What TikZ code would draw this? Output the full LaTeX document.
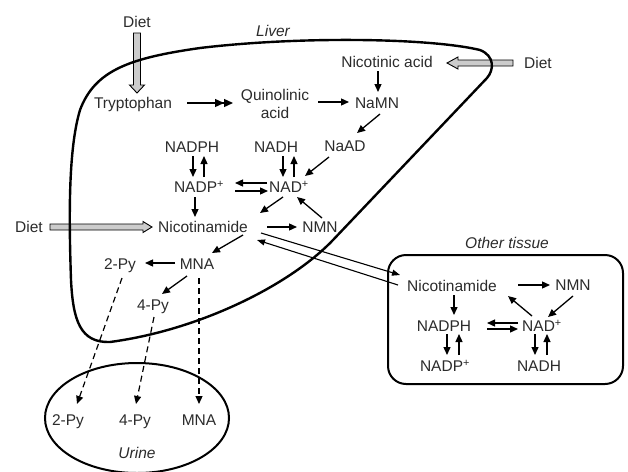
\documentclass[tikz,border=0pt]{standalone}
\usepackage{fontspec}
\setmainfont{Liberation Sans}
\usetikzlibrary{arrows.meta,calc}
\definecolor{txtc}{rgb}{0.17,0.17,0.17}
\definecolor{dietgray}{rgb}{0.80,0.80,0.80}
\newcommand{\fsz}{\fontsize{15.5}{18.5}\selectfont}
\begin{document}
\begin{tikzpicture}[x=1pt,y=-1pt,
  t/.style={font=\fsz, text=txtc, inner sep=0pt, text height=11pt, text depth=0pt},
  it/.style={t, font=\fsz\itshape},
  arr/.style={line width=1.3pt, -{Triangle[length=8pt,width=7pt]}},
  darr/.style={line width=1.3pt, -{Triangle[length=9pt,width=8pt]Triangle[length=9pt,width=8pt]}},
  dasharr/.style={line width=1.2pt, dash pattern=on 6pt off 4pt, -{Triangle[length=8pt,width=7pt]}},
  tarr/.style={line width=1.1pt, -{Triangle[length=8pt,width=6pt]}},
  membrane/.style={line width=2.4pt, line join=round},
  tissue/.style={line width=2pt},
  dietarr/.style={draw=black, line width=0.9pt, fill=dietgray, line join=miter},
]
\useasboundingbox (0,0) rectangle (628,471);

% ---------- nodes ----------
\node[t] (diet1) at (137,22) {Diet};
\node[it] (liverlbl) at (273,31) {Liver};
\node[t] (tryp) at (133,103) {Tryptophan};
\node[font=\fsz, text=txtc, inner sep=0pt, align=center] (quin) at (275,104) {Quinolinic\\acid};
\node[t] (nica) at (387,62) {Nicotinic acid};
\node[t] (diet2) at (538,63) {Diet};
\node[t] (namn) at (377,103) {NaMN};
\node[t] (naad) at (345,146) {NaAD};
\node[t] (nadph1) at (192,147) {NADPH};
\node[t] (nadh1) at (276,147) {NADH};
\node[t] (nadp1) at (199,187) {NADP\textsuperscript{+}};
\node[t] (nad1) at (289,187) {NAD\textsuperscript{+}};
\node[t] (diet3) at (29,227) {Diet};
\node[t] (nic1) at (203,227) {Nicotinamide};
\node[t] (nmn1) at (320,227) {NMN};
\node[t] (py2a) at (120,264) {2-Py};
\node[t] (mna1) at (197,264) {MNA};
\node[t] (py4a) at (153,305) {4-Py};
\node[t] (py2u) at (68,420) {2-Py};
\node[t] (py4u) at (135,420) {4-Py};
\node[t] (mnau) at (199,420) {MNA};
\node[it] (urinelbl) at (137,453) {Urine};
\node[it] (otherlbl) at (507,243) {Other tissue};
\node[t] (nic2) at (452,286) {Nicotinamide};
\node[t] (nmn2) at (573,285) {NMN};
\node[t] (nadph2) at (444,326) {NADPH};
\node[t] (nad2) at (542,326) {NAD\textsuperscript{+}};
\node[t] (nadp2) at (445,366) {NADP\textsuperscript{+}};
\node[t] (nadh2) at (539,366) {NADH};

% ---------- diet (gray) arrows ----------
\coordinate (d1s) at ($(diet1)+(0,11)$);
\coordinate (d1t) at ($(tryp)+(4,-10)$);
\draw[dietarr] ($(d1s)+(-3.5,0)$) -- ($(d1t)+(-3.5,-8)$) -- ($(d1t)+(-7.5,-8)$) -- (d1t)
  -- ($(d1t)+(7.5,-8)$) -- ($(d1t)+(3.5,-8)$) -- ($(d1s)+(3.5,0)$) -- cycle;
\coordinate (d2s) at ($(diet2)+(-25,0)$);
\coordinate (d2t) at ($(nica)+(60,1)$);
\draw[dietarr] ($(d2s)+(0,-3)$) -- ($(d2t)+(11,-3)$) -- ($(d2t)+(11,-6)$) -- (d2t)
  -- ($(d2t)+(11,6)$) -- ($(d2t)+(11,3)$) -- ($(d2s)+(0,3)$) -- cycle;
\coordinate (d3s) at ($(diet3)+(21,0)$);
\coordinate (d3t) at ($(nic1)+(-51,0)$);
\draw[dietarr] ($(d3s)+(0,-3)$) -- ($(d3t)+(-9,-3)$) -- ($(d3t)+(-9,-5.5)$) -- (d3t)
  -- ($(d3t)+(-9,5.5)$) -- ($(d3t)+(-9,3)$) -- ($(d3s)+(0,3)$) -- cycle;

% ---------- compartments ----------
\draw[membrane] (487,78) -- (333,240) .. controls (290,285) and (200,330) .. (110,342)
  .. controls (80,343) and (73,320) .. (71,280)
  .. controls (69,220) and (68,150) .. (80,110)
  .. controls (95,70) and (130,58) .. (200,48)
  .. controls (300,36) and (430,38) .. (480,50)
  .. controls (495,56) and (494,70) .. (487,78) -- cycle;
\draw[tissue, rounded corners=18pt] (388,255) rectangle (623,384);
\draw[tissue] (137,418) ellipse [x radius=92pt, y radius=55pt];

% ---------- liver arrows ----------
\draw[darr] ($(tryp)+(54,0)$) -- ($(quin)+(-42,-1)$);
\draw[arr] ($(quin)+(43,-2)$) -- ($(namn)+(-28,-1)$);
\draw[arr] ($(nica)+(-9,9)$) -- ($(namn)+(1,-11)$);
\draw[arr] ($(namn)+(3,11)$) -- ($(naad)+(12,-13)$);
\draw[arr] ($(naad)+(-16,11)$) -- ($(nad1)+(16,-11)$);
\draw[arr] ($(nadph1)+(1,9)$) -- ($(nadp1)+(-6,-10)$);
\draw[arr] ($(nadp1)+(5,-10)$) -- ($(nadph1)+(12,9)$);
\draw[arr] ($(nadh1)+(7,9)$) -- ($(nad1)+(-6,-10)$);
\draw[arr] ($(nad1)+(5,-10)$) -- ($(nadh1)+(18,9)$);
\draw[arr] ($(nad1)+(-22,-4)$) -- ($(nadp1)+(36,-4)$);
\draw[arr] ($(nadp1)+(36,4)$) -- ($(nad1)+(-21,4)$);
\draw[arr] ($(nadp1)+(-4,10)$) -- ($(nic1)+(-8,-10)$);
\draw[arr] ($(nad1)+(-6,10)$) -- ($(nic1)+(57,-14)$);
\draw[arr] ($(nmn1)+(2,-9)$) -- ($(nad1)+(8,10)$);
\draw[arr] ($(nic1)+(64,0)$) -- ($(nmn1)+(-23,0)$);
\draw[arr] ($(nic1)+(40,8)$) -- ($(mna1)+(15,-11)$);
\draw[arr] ($(mna1)+(-22,-1)$) -- ($(py2a)+(25,-1)$);
\draw[arr] ($(mna1)+(-10,12)$) -- ($(py4a)+(9,-11)$);

% ---------- excretion ----------
\draw[dasharr] ($(py2a)+(2,14)$) -- ($(py2u)+(9,-16)$);
\draw[dasharr] ($(py4a)+(1,12)$) -- ($(py4u)+(1,-16)$);
\draw[dasharr] ($(mna1)+(2,14)$) -- ($(mnau)+(0,-16)$);

% ---------- transport ----------
\draw[tarr] ($(nic1)+(58,6)$) -- ($(nic2)+(-52,-11)$);
\draw[tarr] ($(nic2)+(-54,-1)$) -- ($(nic1)+(54,13)$);

% ---------- other tissue arrows ----------
\draw[arr] ($(nic2)+(66,-1)$) -- ($(nmn2)+(-23,0)$);
\draw[arr] ($(nmn2)+(0,11)$) -- ($(nad2)+(6,-9)$);
\draw[arr] ($(nad2)+(-10,-10)$) -- ($(nic2)+(56,10)$);
\draw[arr] ($(nic2)+(2,9)$) -- ($(nadph2)+(10,-11)$);
\draw[arr] ($(nad2)+(-24,-3)$) -- ($(nadph2)+(43,-3)$);
\draw[arr] ($(nadph2)+(43,3)$) -- ($(nad2)+(-24,3)$);
\draw[arr] ($(nadph2)+(3,8)$) -- ($(nadp2)+(2,-11)$);
\draw[arr] ($(nadp2)+(14,-11)$) -- ($(nadph2)+(15,8)$);
\draw[arr] ($(nad2)+(-7,8)$) -- ($(nadh2)+(-4,-11)$);
\draw[arr] ($(nadh2)+(8,-11)$) -- ($(nad2)+(5,8)$);
\end{tikzpicture}
\end{document}
